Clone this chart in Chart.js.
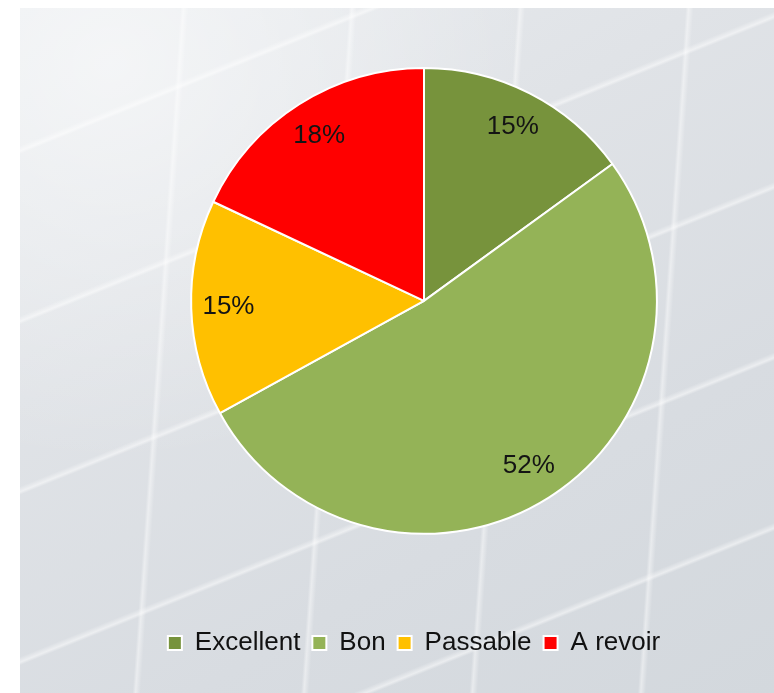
<!DOCTYPE html>
<html>
<head>
<meta charset="utf-8">
<script src="https://cdn.jsdelivr.net/npm/chart.js@4.4.0/dist/chart.umd.min.js"></script>
<style>
  html, body { margin: 0; padding: 0; background: #fff; }
  #frame {
    position: absolute;
    left: 20px;
    top: 8px;
    width: 754px;
    height: 685px;
    background:
      repeating-linear-gradient(338deg, transparent 0 150px, rgba(255,255,255,0.5) 153px, transparent 158px),
      repeating-linear-gradient(94deg, transparent 0 160px, rgba(255,255,255,0.45) 163px, transparent 168px),
      radial-gradient(ellipse at 12% 8%, rgba(255,255,255,0.55), transparent 45%),
      linear-gradient(150deg, #e9ecef 0%, #e0e3e7 35%, #d8dce1 70%, #d3d8dd 100%);
  }
  #chart { display: block; }
</style>
</head>
<body>
<div id="frame"><canvas id="chart" width="754" height="685"></canvas></div>
<script>
// Data
const categories = ["Excellent", "Bon", "Passable", "A revoir"];
const shares = [15, 52, 15, 18];
const sliceColors = ["#77933c", "#94b357", "#ffc000", "#ff0000"];

const FONT = "'Liberation Sans', Arial, sans-serif";

// Percent labels inside the slices
const sliceLabels = {
  id: "sliceLabels",
  afterLayout(chart) {
    // legend sits a bit left of the pie centre in the original
    chart.legend.left -= 10;
    chart.legend.right -= 10;
  },
  afterDatasetsDraw(chart) {
    const ctx = chart.ctx;
    const meta = chart.getDatasetMeta(0);
    ctx.save();
    ctx.font = "26px " + FONT;
    ctx.fillStyle = "#141414";
    ctx.textAlign = "center";
    ctx.textBaseline = "middle";
    meta.data.forEach((arc, i) => {
      const p = arc.getProps(["x", "y", "startAngle", "endAngle", "outerRadius"], true);
      const mid = (p.startAngle + p.endAngle) / 2;
      const r = p.outerRadius * 0.84;
      ctx.fillText(shares[i] + "%", p.x + Math.cos(mid) * r, p.y + Math.sin(mid) * r);
    });
    ctx.restore();
  },
};

const ctx = document.getElementById("chart").getContext("2d");
new Chart(ctx, {
  type: "pie",
  data: {
    labels: categories,
    datasets: [
      {
        data: shares,
        backgroundColor: sliceColors,
        borderColor: "#ffffff",
        borderWidth: 2,
      },
    ],
  },
  options: {
    responsive: false,
    animation: false,
    layout: { padding: { top: 59, left: 54, right: 0, bottom: 27 } },
    plugins: {
      tooltip: { enabled: false },
      legend: {
        position: "bottom",
        title: { display: true, text: "", font: { size: 1 }, padding: { top: 82, bottom: 0 } },
        labels: {
          color: "#111",
          font: { family: FONT, size: 26 },
          boxWidth: 14,
          boxHeight: 14,
          padding: 12,
        },
      },
    },
  },
  plugins: [sliceLabels],
});
</script>
</body>
</html>
